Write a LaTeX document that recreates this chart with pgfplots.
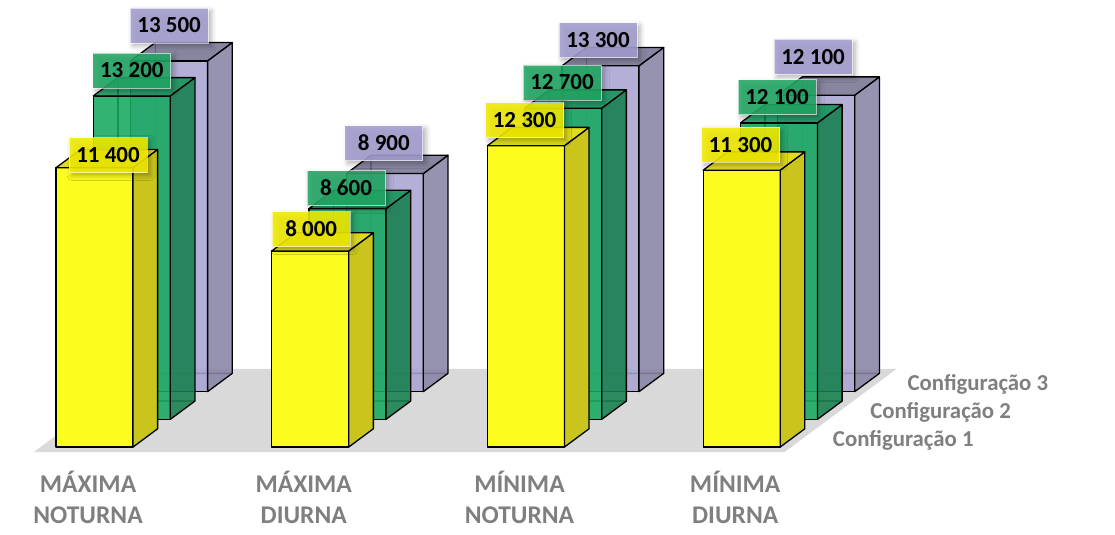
\documentclass[border=0pt]{standalone}
\usepackage{pgfplots}
\pgfplotsset{compat=1.18}
\usepackage{pgfplotstable}
\usepackage{fontspec}
\setmainfont{Carlito}
\usetikzlibrary{shadows.blur}

\definecolor{yfront}{HTML}{FCFC1E}
\definecolor{yside}{HTML}{C9C51C}
\definecolor{ytop}{HTML}{E0DC1C}
\definecolor{gfront}{HTML}{17A95F}
\definecolor{gside}{HTML}{167F4D}
\definecolor{gtop}{HTML}{14955A}
\definecolor{pfront}{HTML}{A8A4D2}
\definecolor{pside}{HTML}{8884A6}
\definecolor{ptop}{HTML}{777493}
\definecolor{ylab}{HTML}{F2EC00}
\definecolor{glab}{HTML}{22A865}
\definecolor{plab}{HTML}{A49FD0}
\definecolor{floorc}{HTML}{DAD9DA}
\definecolor{txtgray}{HTML}{7F7F7F}

% x = category, v = value, dx/dy = label offset (pt)
\pgfplotstableread{
x v dx dy
0 11400 13.5 12.7
1 8000 1 22
2 12300 -1.4 25.6
3 11300 -1.1 25.4
}\cfgone
\pgfplotstableread{
x v dx dy
0 13200 0 25.4
1 8600 -1.5 20.6
2 12700 -1.2 25.7
3 12100 -1.9 25.6
}\cfgtwo
\pgfplotstableread{
x v dx dy
0 13500 0 35.4
1 8900 -1 30.5
2 13300 -2.5 25.7
3 12100 -3.2 38.3
}\cfgthree

\pgfplotsset{barface/.style={draw=black, line width=1.3pt, line join=round}}

% #1 table, #2 row, #3 depth, #4 front, #5 side, #6 top, #7 opacity
\newcommand\barbox[7]{%
  \pgfplotstablegetelem{#2}{x}\of#1\let\bx\pgfplotsretval
  \pgfplotstablegetelem{#2}{v}\of#1\pgfmathsetmacro\bz{\pgfplotsretval/1000}%
  \pgfmathsetmacro\xa{\bx-0.1785}%
  \pgfmathsetmacro\xb{\bx+0.1785}%
  \pgfmathsetmacro\ya{#3}%
  \pgfmathsetmacro\yb{#3+0.66}%
  \edef\doit{%
    \noexpand\addplot3[barface] coordinates {(\xa,\ya,0) (\xa,\yb,0) (\xb,\yb,0)};
    \noexpand\addplot3[barface] coordinates {(\xa,\yb,0) (\xa,\yb,\bz)};
    \noexpand\addplot3[barface, fill=#4, fill opacity=#7] coordinates {(\xa,\ya,0) (\xb,\ya,0) (\xb,\ya,\bz) (\xa,\ya,\bz)} -- cycle;
    \noexpand\addplot3[barface, fill=#5, fill opacity=#7] coordinates {(\xb,\ya,0) (\xb,\yb,0) (\xb,\yb,\bz) (\xb,\ya,\bz)} -- cycle;
    \noexpand\addplot3[barface, fill=#6, fill opacity=#7] coordinates {(\xa,\ya,\bz) (\xb,\ya,\bz) (\xb,\yb,\bz) (\xa,\yb,\bz)} -- cycle;
  }\doit
}

\pgfplotsset{
  vlabel/.style={
    draw=none, mark=none, point meta=explicit,
    nodes near coords,
    visualization depends on={\thisrow{dx} \as \ldx},
    visualization depends on={\thisrow{dy} \as \ldy},
    /pgf/number format/.cd, fixed, precision=0, 1000 sep={\ }, assume math mode=true, /pgfplots/.cd,
    every node near coord/.append style={
      anchor=center, xshift=\ldx pt, yshift=\ldy pt,
      fill=#1, fill opacity=0.88, text opacity=1, text=black,
      draw=white, draw opacity=0.6, line width=0.8pt,
      minimum width=78pt, minimum height=35pt, inner sep=0pt,
      font=\bfseries\fontsize{23}{27}\selectfont,
      blur shadow={shadow xshift=3pt, shadow yshift=-3pt, shadow blur radius=5pt, shadow opacity=35}
    }
  }
}

\begin{document}
\begin{tikzpicture}
\begin{axis}[
  x={(215.7pt,0pt)}, y={(37.3pt,27.7pt)}, z={(0pt,24.5pt)},
  hide axis, clip=false,
  xmin=-0.5, xmax=3.5, ymin=-0.2, ymax=2.9, zmin=0, zmax=14,
]
% floor
\addplot3[fill=floorc, draw=none] coordinates {(-0.25,-0.18,0) (3.23,-0.18,0) (3.23,2.82,0) (-0.25,2.82,0)} -- cycle;
% bars, back to front
\pgfplotsinvokeforeach{0,...,3}{\barbox{\cfgthree}{#1}{2}{pfront}{pside}{ptop}{0.88}}
\pgfplotsinvokeforeach{0,...,3}{\barbox{\cfgtwo}{#1}{1}{gfront}{gside}{gtop}{0.88}}
\pgfplotsinvokeforeach{0,...,3}{\barbox{\cfgone}{#1}{0}{yfront}{yside}{ytop}{1}}
% value labels
\addplot3[vlabel=plab] table[x=x, y expr=2, z expr=\thisrow{v}/1000, meta=v] {\cfgthree};
\addplot3[vlabel=glab] table[x=x, y expr=1, z expr=\thisrow{v}/1000, meta=v] {\cfgtwo};
\addplot3[vlabel=ylab] table[x=x, y expr=0, z expr=\thisrow{v}/1000, meta=v] {\cfgone};
% series names
\begin{scope}[every node/.style={anchor=base west, text=txtgray, font=\bfseries\fontsize{22.8}{26}\selectfont, inner sep=0pt}]
\node at (axis cs:3.416,0.036,0) {Configuração 1};
\node at (axis cs:3.416,1.036,0) {Configuração 2};
\node at (axis cs:3.416,2.036,0) {Configuração 3};
\end{scope}
% category names
\begin{scope}[every node/.style={anchor=base, text=txtgray, font=\bfseries\fontsize{25.5}{31}\selectfont, inner sep=0pt}]
\node at (axis cs:-0.03,0,-1.849) {MÁXIMA};
\node at (axis cs:-0.03,0,-3.114) {NOTURNA};
\node at (axis cs:0.97,0,-1.849) {MÁXIMA};
\node at (axis cs:0.97,0,-3.114) {DIURNA};
\node at (axis cs:1.97,0,-1.849) {MÍNIMA};
\node at (axis cs:1.97,0,-3.114) {NOTURNA};
\node at (axis cs:2.97,0,-1.849) {MÍNIMA};
\node at (axis cs:2.97,0,-3.114) {DIURNA};
\end{scope}
\coordinate (bl) at (axis cs:-0.4381,0,-3.551);
\coordinate (tr) at (axis cs:4.7307,0,18.245);
\end{axis}
\pgfresetboundingbox
\useasboundingbox (bl) rectangle (tr);
\end{tikzpicture}
\end{document}
